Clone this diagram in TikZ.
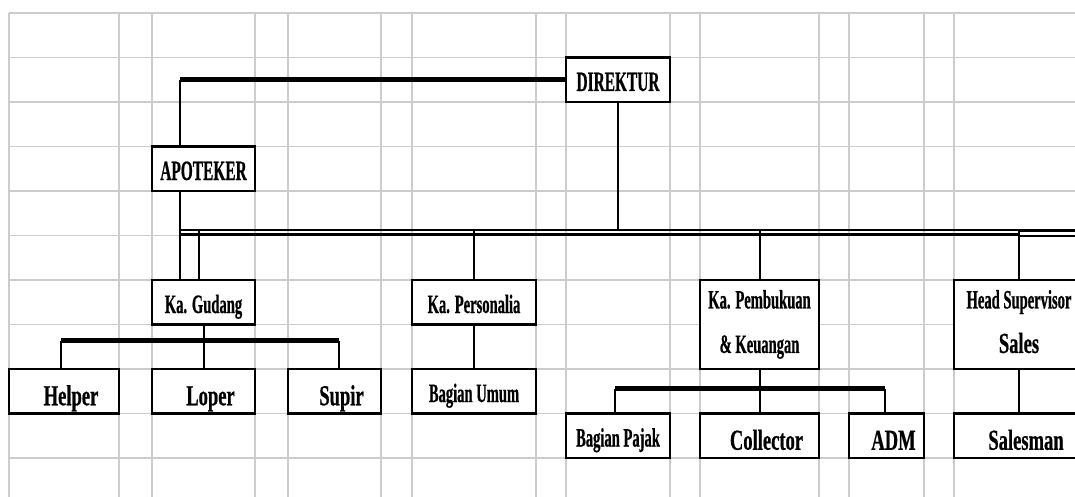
\documentclass[tikz,border=0pt]{standalone}
\usepackage{fontspec}
\newfontfamily\narrowfont{Liberation Serif}[FakeStretch=0.55,FakeBold=0.6]
\newfontfamily\widefont{Liberation Serif}[FakeStretch=0.64,FakeBold=0.6]
\usetikzlibrary{calc}

\tikzset{
  cell/.style={draw, fill=white, line width=2.5pt, inner sep=0pt},
  post/.style={cell, font=\narrowfont\bfseries\fontsize{26.5}{44.5}\selectfont, text height=21.5pt, text depth=0pt},
  toppost/.style={post, font=\narrowfont\bfseries\fontsize{28}{44.5}\selectfont, text height=22.5pt},
  bigpost/.style={post, font=\widefont\bfseries\fontsize{29}{44.5}\selectfont, text height=28pt, execute at begin node={\hspace*{14pt}}},
  twopost/.style={cell, align=center, font=\narrowfont\bfseries\fontsize{26.5}{44.5}\selectfont,
    execute at begin node={\rule{0pt}{26pt}}, execute at end node={\rule[-6pt]{0pt}{6pt}}},
  link/.style={line width=2pt},
  bar/.style={line width=5pt},
  gridline/.style={black!20, line width=1.3pt}
}

\begin{document}
\begin{tikzpicture}[x=1pt,y=-1pt]
  \useasboundingbox (0,0) rectangle (1075,497);
  \clip (0,0) rectangle (1075,497);
  \foreach \gx in {9,119,152,255,288,381,412,536,566,670,700,819,849,924,954}
    \draw[gridline] (\gx,13) -- (\gx,497);
  \foreach \gy in {13,57.5,102,146.5,191,235.5,280,324.5,369,413.5,458}
    \draw[gridline] (9,\gy) -- (1075,\gy);

  \node[toppost, minimum width=104, minimum height=44.5] (direktur) at (618,79.75) {DIREKTUR};
  \node[toppost, minimum width=103, minimum height=44.5] (apoteker) at (203.5,168.75) {APOTEKER};

  \node[post, minimum width=103, minimum height=44.5] (gudang) at (203.5,302.25) {Ka. Gudang};
  \node[post, minimum width=124, minimum height=44.5] (personalia) at (474,302.25) {Ka. Personalia};
  \node[twopost, minimum width=119, minimum height=89] (keuangan) at (759.5,324.5) {Ka. Pembukuan\\\& Keuangan};
  \node[twopost, minimum width=130, minimum height=89] (supervisor) at (1019,324.5)
    {Head Supervisor\\\widefont\fontsize{29}{44.5}\selectfont Sales};

  \node[bigpost, minimum width=110, minimum height=44.5] (helper) at (64,391.25) {Helper};
  \node[bigpost, minimum width=103, minimum height=44.5] (loper) at (203.5,391.25) {Loper};
  \node[bigpost, minimum width=93, minimum height=44.5] (supir) at (334.5,391.25) {Supir};
  \node[post, minimum width=124, minimum height=44.5] (umum) at (474,391.25) {Bagian Umum};

  \node[post, minimum width=104, minimum height=44.5] (pajak) at (618,435.75) {Bagian Pajak};
  \node[bigpost, minimum width=119, minimum height=44.5] (collector) at (759.5,435.75) {Collector};
  \node[bigpost, minimum width=75, minimum height=44.5] (adm) at (886.5,435.75) {ADM};
  \node[bigpost, minimum width=130, minimum height=44.5] (salesman) at (1019,435.75) {Salesman};

  % top level
  \coordinate (busl) at (180,230);
  \coordinate (busg) at (199,230);
  \coordinate (busr) at (1018,230);
  \draw[bar] (direktur.west) -- (direktur.west -| busl);
  \draw[link] (direktur.west -| busl) -- (apoteker.north -| busl);
  \draw[link] (apoteker.south -| busl) -- (gudang.north -| busl);
  \draw[link] (direktur.south) -- (direktur.south |- busl);

  % double line
  \draw[link] (busl) -- (busr);
  \draw[line width=3.5pt] ($(busl)+(0,4.5)$) -- ($(busr)+(0,4.5)$);
  \draw[line width=3.5pt] ($(busr)+(0,0.5)$) -- ++(70,0);
  \draw[line width=1.8pt] ($(busr)+(0,6)$) -- ++(70,0);

  \draw[link] (busg) -- (busg |- gudang.north);
  \draw[link] (personalia.north |- busl) -- (personalia.north);
  \draw[link] (keuangan.north |- busl) -- (keuangan.north);
  \draw[link] (supervisor.north |- busl) -- (supervisor.north);

  % gudang
  \coordinate (gbarl) at (61,340.5);
  \coordinate (gbarr) at (339,340.5);
  \draw[bar] (gbarl) -- (gbarr);
  \draw[link] (gudang.south) -- (loper.north);
  \draw[link] (gbarl) -- (gbarl |- helper.north);
  \draw[link] (gbarr) -- (gbarr |- supir.north);

  \draw[link] (personalia.south) -- (umum.north);

  % keuangan
  \coordinate (kbarl) at (615,388.5);
  \coordinate (kbarr) at (885,388.5);
  \draw[bar] (kbarl) -- (kbarr);
  \draw[link] (keuangan.south) -- (collector.north);
  \draw[link] (kbarl) -- (kbarl |- pajak.north);
  \draw[link] (kbarr) -- (kbarr |- adm.north);

  \draw[link] (supervisor.south) -- (salesman.north);
\end{tikzpicture}
\end{document}
